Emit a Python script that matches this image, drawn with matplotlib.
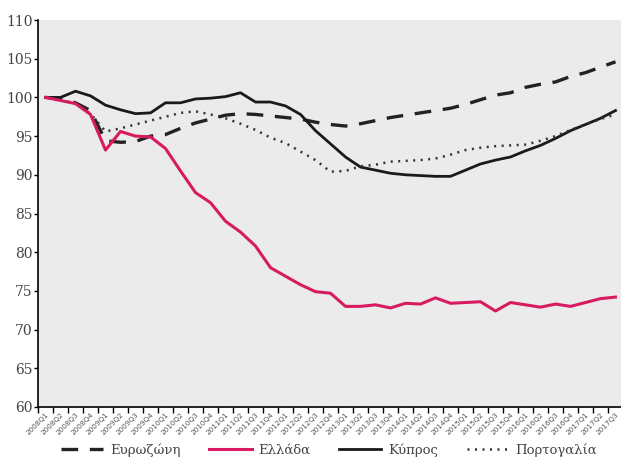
import matplotlib
matplotlib.use("Agg")
import matplotlib.pyplot as plt
import numpy as np

quarters = [f"{y}Q{q}" for y in range(2008, 2018) for q in range(1, 5)][:39]

eurozone = [100, 99.8, 99.3, 98.3, 94.4, 94.2, 94.3, 95.0, 95.2, 96.0,
            96.7, 97.2, 97.7, 97.9, 97.8, 97.6, 97.4, 97.2, 96.8, 96.5,
            96.3, 96.6, 97.0, 97.4, 97.7, 98.0, 98.3, 98.6, 99.1, 99.7,
            100.3, 100.6, 101.3, 101.7, 102.0, 102.7, 103.2, 103.9, 104.6]
greece = [100, 99.6, 99.2, 97.8, 93.2, 95.6, 95.0, 94.9, 93.4, 90.5,
          87.7, 86.4, 84.0, 82.6, 80.8, 78.0, 76.9, 75.8, 74.9, 74.7,
          73.0, 73.0, 73.2, 72.8, 73.4, 73.3, 74.1, 73.4, 73.5, 73.6,
          72.4, 73.5, 73.2, 72.9, 73.3, 73.0, 73.5, 74.0, 74.2]
cyprus = [100, 100, 100.8, 100.2, 99.0, 98.4, 97.9, 98.0, 99.3, 99.3,
          99.8, 99.9, 100.1, 100.6, 99.4, 99.4, 98.9, 97.8, 95.7, 94.0,
          92.3, 91.0, 90.6, 90.2, 90.0, 89.9, 89.8, 89.8, 90.6, 91.4,
          91.9, 92.3, 93.1, 93.8, 94.7, 95.7, 96.5, 97.3, 98.3]
portugal = [100, 99.7, 99.2, 97.9, 95.6, 96.0, 96.5, 97.0, 97.5, 98.0,
            98.2, 97.8, 97.3, 96.6, 95.8, 94.8, 94.1, 93.0, 91.9, 90.4,
            90.5, 91.1, 91.3, 91.7, 91.8, 91.9, 92.1, 92.6, 93.2, 93.5,
            93.7, 93.8, 93.9, 94.4, 95.0, 95.8, 96.5, 97.2, 97.8]
labels = ["Ευρωζώνη", "Ελλάδα", "Κύπρος", "Πορτογαλία"]
yticks = list(range(60, 111, 5))

fig = plt.figure(figsize=(6.21, 4.57), dpi=100)
ax = fig.add_axes([38/621, 50/457, 585/621, 387/457])
ax.set_facecolor("#ebebeb")
x = np.arange(len(quarters))

ax.plot(x, eurozone, color="#222222", lw=2.4, dashes=(5, 3.5), label=labels[0], zorder=3)
ax.plot(x, greece, color="#d81b60", lw=2.2, label=labels[1], zorder=4)
ax.plot(x, cyprus, color="#1a1a1a", lw=2.0, label=labels[2], zorder=3)
ax.plot(x, portugal, color="#333333", lw=1.8, dashes=(0.8, 2.2), label=labels[3], zorder=3)

ax.set_xlim(-0.5, len(quarters) - 0.5)
ax.set_ylim(60, 110)
ax.set_yticks(yticks)
ax.set_yticklabels([str(v) for v in yticks], fontsize=10, family="DejaVu Serif", color="#444444")
ax.set_xticks(x)
ax.set_xticklabels(quarters, rotation=45, ha="right", rotation_mode="anchor",
                   fontsize=5.2, color="#555555")
ax.tick_params(axis="x", which="major", length=0, pad=3)
ax.set_xticks(np.arange(-0.5, len(quarters), 1), minor=True)
ax.tick_params(axis="x", which="minor", length=4, width=1, color="black", direction="out")
ax.tick_params(axis="y", length=3, width=1, direction="out", pad=1)
for s in ["top", "right"]:
    ax.spines[s].set_visible(False)
for s in ["left", "bottom"]:
    ax.spines[s].set_color("black")
    ax.spines[s].set_linewidth(1.2)

leg = fig.legend(loc="lower center", bbox_to_anchor=(0.53, -0.025), ncol=4, frameon=False,
                 prop={"family": "DejaVu Serif", "size": 9.5}, handlelength=3.2,
                 columnspacing=2.2, handletextpad=0.5)
for t in leg.get_texts():
    t.set_color("#444444")

fig.savefig("out.png", dpi=100, facecolor="white")
